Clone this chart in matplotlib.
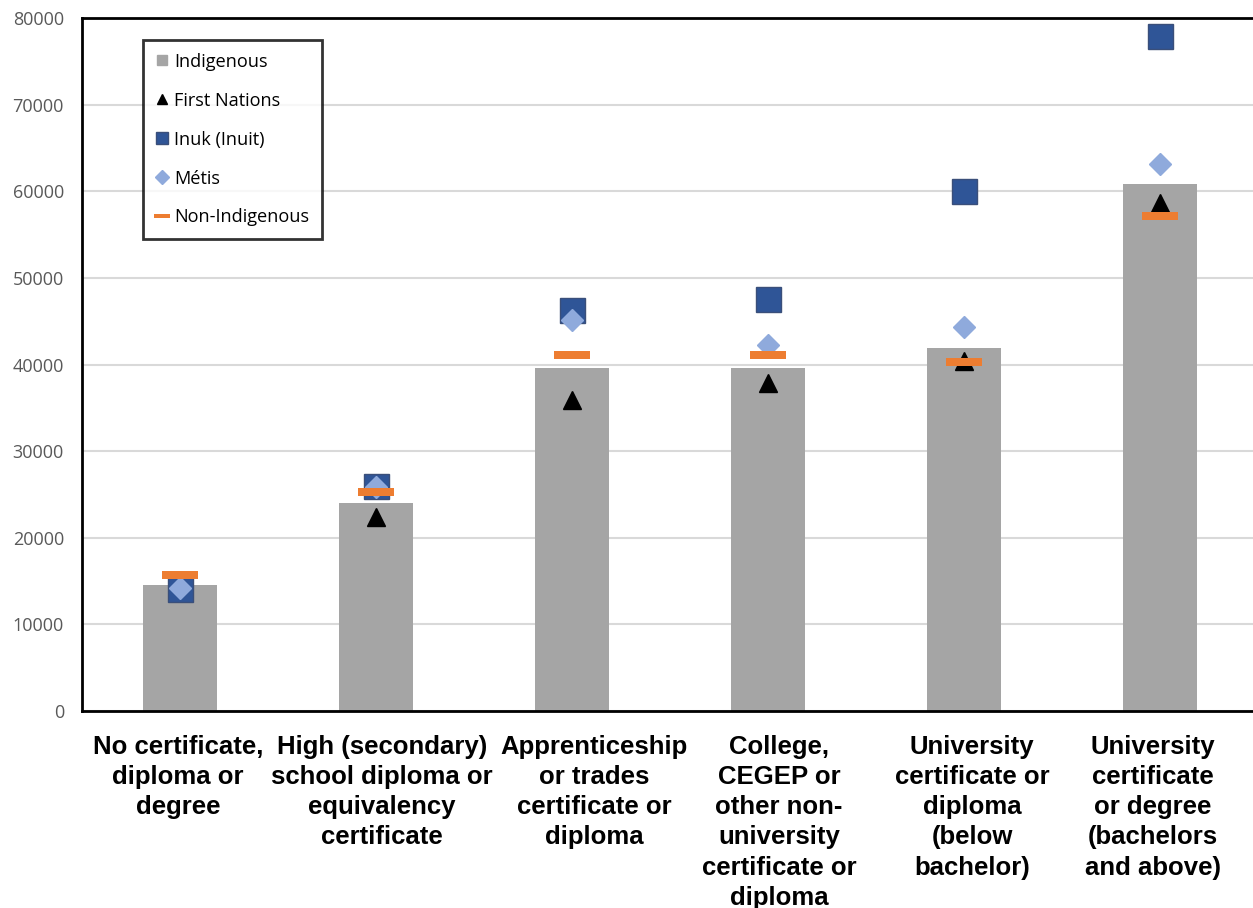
import matplotlib
matplotlib.use("Agg")
import matplotlib.pyplot as plt
from matplotlib.lines import Line2D
from matplotlib.transforms import ScaledTranslation
import numpy as np

categories = [
    "No certificate,\ndiploma or\ndegree",
    "High (secondary)\nschool diploma or\nequivalency\ncertificate",
    "Apprenticeship\nor trades\ncertificate or\ndiploma",
    "College,\nCEGEP or\nother non-\nuniversity\ncertificate or\ndiploma",
    "University\ncertificate or\ndiploma\n(below\nbachelor)",
    "University\ncertificate\nor degree\n(bachelors\nand above)",
]
indigenous = [14500, 24000, 39600, 39600, 41900, 60800]
first_nations = [14000, 22400, 35900, 37900, 40400, 58600]
inuk = [14100, 26000, 46300, 47600, 60000, 77900]
metis = [14200, 25900, 45100, 42200, 44300, 63100]
non_indigenous = [15700, 25300, 41100, 41100, 40300, 57200]
y_ticks = [0, 10000, 20000, 30000, 40000, 50000, 60000, 70000, 80000]

# horizontal nudges (pixels) applied to the wrapped category labels
label_shift_px = [-2, 6, 22, 11, 8, -7]

fig = plt.figure(figsize=(12.53, 9.08), dpi=100)
ax = fig.add_axes([82 / 1253, 197 / 908, 1176 / 1253, 693 / 908])

x = np.arange(len(categories))
dash = [(-1, -0.24), (1, -0.24), (1, 0.24), (-1, 0.24), (-1, -0.24)]

ax.bar(x, indigenous, width=0.38, color="#a5a5a5", zorder=2)
ax.plot(x, first_nations, ls="none", marker="^", ms=13, color="black", zorder=3)
ax.plot(x, inuk, ls="none", marker="s", ms=18, mfc="#2f5597", mec="#3a4f7a",
        mew=1.0, zorder=4)
ax.plot(x, metis, ls="none", marker="D", ms=11.5, mfc="#8faadc", mec="#8faadc",
        zorder=5)
ax.plot(x, non_indigenous, ls="none", marker=dash, ms=26.5, mfc="#ed7d31",
        mec="#ed7d31", mew=0, zorder=6)

ax.set_xlim(-0.5, len(categories) - 0.5)
ax.set_ylim(0, 80000)
ax.set_yticks(y_ticks)
ax.set_yticklabels([str(v) for v in y_ticks], fontsize=13, family="Open Sans",
                   color="#595959")
ax.set_xticks(x)
ax.set_xticklabels(categories, fontsize=18.5, fontweight="bold",
                   family="Liberation Sans", linespacing=1.33, color="black")
ax.tick_params(axis="x", length=0, pad=17)
ax.tick_params(axis="y", length=0, pad=13)
for lbl, dx in zip(ax.get_xticklabels(), label_shift_px):
    lbl.set_transform(lbl.get_transform()
                      + ScaledTranslation(dx / 100, 0, fig.dpi_scale_trans))

ax.grid(axis="y", color="#d9d9d9", lw=1.5, zorder=0)
ax.set_axisbelow(True)
for side in ["left", "top", "bottom"]:
    ax.spines[side].set_color("black")
    ax.spines[side].set_linewidth(2)
ax.spines["right"].set_visible(False)

handles = [
    Line2D([], [], ls="none", marker="s", ms=7.5, color="#a5a5a5"),
    Line2D([], [], ls="none", marker="^", ms=7.5, color="black"),
    Line2D([], [], ls="none", marker="s", ms=8.5, mfc="#2f5597", mec="#3a4f7a"),
    Line2D([], [], ls="none", marker="D", ms=7, color="#8faadc"),
    Line2D([], [], ls="none", marker=dash, ms=12, color="#ed7d31", mew=0),
]
labels = ["Indigenous", "First Nations", "Inuk (Inuit)", "Métis", "Non-Indigenous"]
leg = ax.legend(handles, labels, loc="upper left",
                bbox_to_anchor=(143 / 1253, 1 - 40 / 908),
                bbox_transform=fig.transFigure,
                prop={"family": "Open Sans", "size": 13.1},
                frameon=True, fancybox=False, edgecolor="black",
                handlelength=0.7, handletextpad=0.3, labelspacing=1.15,
                borderpad=0.7, borderaxespad=0)
leg.get_frame().set_linewidth(2)

fig.savefig("out.png", dpi=100)
